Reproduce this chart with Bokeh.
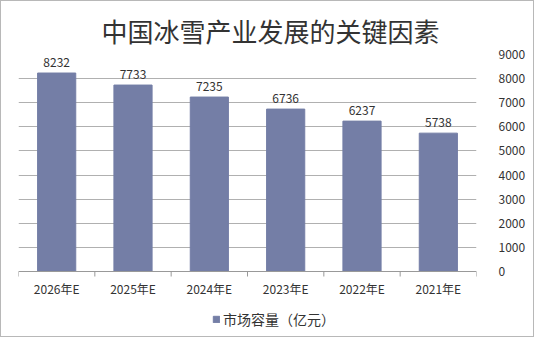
from bokeh.plotting import figure
from bokeh.models import ColumnDataSource, LinearAxis, Legend, LegendItem, FixedTicker, Range1d, FactorRange
from bokeh.embed import file_html
from bokeh.resources import INLINE

categories = ["2026年E", "2025年E", "2024年E", "2023年E", "2022年E", "2021年E"]
values = [8232, 7733, 7235, 6736, 6237, 5738]
labels = [str(v) for v in values]
y_ticks = [0, 1000, 2000, 3000, 4000, 5000, 6000, 7000, 8000, 9000]
series_name = "市场容量（亿元）"
title_text = "中国冰雪产业发展的关键因素"

FONT = "Noto Sans CJK SC"
BAR = "#747ea6"
TXT = "#333333"

# layout: frame spans 53..333 px; value axis 0..9000 occupies 53..270 px
PX_PER_UNIT = 217 / 9000.0
Y_MIN = -63 / PX_PER_UNIT
TICK_LEN = 5 / PX_PER_UNIT

src = ColumnDataSource(dict(cat=categories, val=values, lab=labels, zero=[0] * len(categories)))
bounds = list(range(len(categories) + 1))
tick_src = ColumnDataSource(dict(x=bounds, y0=[0] * len(bounds), y1=[-TICK_LEN] * len(bounds)))

p = figure(width=534, height=337, x_range=FactorRange(*categories, range_padding=0),
           y_range=Range1d(Y_MIN, 9000), output_backend="svg", toolbar_location=None,
           x_axis_location=None, y_axis_location=None,
           min_border_left=17, min_border_right=59, min_border_top=53, min_border_bottom=4)
p.styles = {"border": "1px solid #b8b8b8", "box-sizing": "border-box"}

p.title.text = title_text
p.title.align = "left"
p.title.offset = 83
p.title.text_font = FONT
p.title.text_font_size = "26px"
p.title.text_font_style = "normal"
p.title.text_color = TXT
p.title.standoff = 12

p.ygrid.grid_line_color = "#b0b0b0"
p.ygrid.ticker = FixedTicker(ticks=y_ticks[1:])
p.xgrid.grid_line_color = None
p.outline_line_color = None

r = p.vbar(x="cat", top="val", width=0.5, source=src, color=BAR)
p.text(x="cat", y="val", text="lab", source=src, text_align="center", text_baseline="bottom",
       y_offset=-6, text_font_size="12px", text_color=TXT, text_font={"value": FONT})

# category axis drawn at value 0
p.hspan(y=[0], line_color="#999999", line_width=1)
p.segment(x0="x", x1="x", y0="y0", y1="y1", source=tick_src, line_color="#999999", line_width=1)
p.text(x="cat", y="zero", text="cat", source=src, text_align="center", text_baseline="middle",
       y_offset=17, text_font_size="12px", text_color=TXT, text_font={"value": FONT})

yax = LinearAxis(ticker=FixedTicker(ticks=y_ticks))
yax.axis_line_color = None
yax.major_tick_line_color = None
yax.minor_tick_line_color = None
yax.major_label_text_font = FONT
yax.major_label_text_font_size = "12px"
yax.major_label_text_color = TXT
yax.major_label_standoff = 16
p.add_layout(yax, "right")

legend = Legend(items=[LegendItem(label=series_name, renderers=[r])], location=(194, 5),
                orientation="horizontal", border_line_color=None, background_fill_alpha=0,
                label_text_font=FONT, label_text_font_size="14px", label_text_color=TXT,
                glyph_width=8, glyph_height=8, padding=2, margin=0, label_standoff=3)
p.add_layout(legend)

open("out.html", "w").write(file_html(p, INLINE))
